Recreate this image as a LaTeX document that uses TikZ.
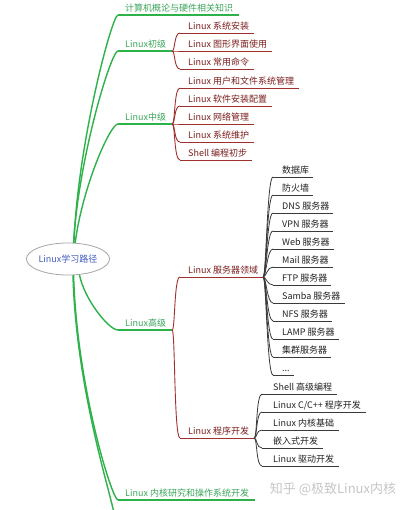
\documentclass[tikz,border=0pt]{standalone}
\usepackage{fontspec}
\setmainfont{Noto Sans CJK SC}
\usetikzlibrary{shapes.geometric}
\definecolor{gcol}{HTML}{2DB24A}
\definecolor{gtxt}{HTML}{3CA55C}
\definecolor{rcol}{HTML}{A0302E}
\definecolor{rtxt}{HTML}{7B1E1E}
\definecolor{kcol}{HTML}{3A3A3A}
\definecolor{ktxt}{HTML}{222222}
\definecolor{btxt}{HTML}{3F5BC0}
\begin{document}
\begin{tikzpicture}[x=1pt,y=-1pt,
  txt/.style={anchor=south west, inner xsep=0pt, inner ysep=1.5pt,
    text height=7pt, text depth=2pt, font=\fontsize{9pt}{10pt}\selectfont},
  gnode/.style={txt, text=gtxt, execute at begin node=\hspace*{7pt}, execute at end node=\hspace*{6pt}},
  rnode/.style={txt, text=rtxt, execute at begin node=\hspace*{8pt}, execute at end node=\hspace*{5pt}},
  knode/.style={txt, text=ktxt, execute at begin node=\hspace*{9pt}, execute at end node=\hspace*{4pt}},
  pnode/.style={txt, text=ktxt, execute at begin node=\hspace*{11pt}, execute at end node=\hspace*{5pt}},
  gline/.style={draw=gcol, line width=1.4pt},
  rline/.style={draw=rcol, line width=0.9pt},
  kline/.style={draw=kcol, line width=0.8pt},
  bracket/.style={to path={.. controls +(3pt,0pt) and +(-6pt,0pt) .. (\tikztotarget)}},
  rootnode/.style={ellipse, draw=gray!70, line width=0.8pt, minimum width=72pt, minimum height=32pt,
    inner sep=0pt, text=btxt, font=\fontsize{9pt}{10pt}\selectfont},
  wm/.style={text=gray!45, font=\fontsize{13pt}{14pt}\selectfont, inner sep=0pt}
]
\fill[white] (0,0) rectangle (409,510);
\useasboundingbox (0,0) rectangle (409,510);

% root
\node[rootnode] (root) at (68,259) {Linux学习路径};

% level 1
\node[gnode] (a) at (118,15) {计算机概论与硬件相关知识};
\node[gnode] (b) at (118,51) {Linux初级};
\node[gnode] (c) at (118,124) {Linux中级};
\node[gnode] (d) at (118,330) {Linux高级};
\node[gnode] (e) at (118,500) {Linux 内核研究和操作系统开发};
\coordinate (f) at (114,513);

% level 2
\node[rnode] (b1) at (180,33) {Linux 系统安装};
\node[rnode] (b2) at (180,51) {Linux 图形界面使用};
\node[rnode] (b3) at (180,69) {Linux 常用命令};
\node[rnode] (c1) at (180,88) {Linux 用户和文件系统管理};
\node[rnode] (c2) at (180,106) {Linux 软件安装配置};
\node[rnode] (c3) at (180,124) {Linux 网络管理};
\node[rnode] (c4) at (180,142) {Linux 系统维护};
\node[rnode] (c5) at (180,160) {Shell 编程初步};
\node[rnode] (d1) at (180,277) {Linux 服务器领域};
\node[rnode] (d2) at (180,438) {Linux 程序开发};

% level 3: servers
\node[knode] (s1) at (273,177) {数据库};
\node[knode] (s2) at (273,195) {防火墙};
\node[knode] (s3) at (273,213) {DNS 服务器};
\node[knode] (s4) at (273,231) {VPN 服务器};
\node[knode] (s5) at (273,249) {Web 服务器};
\node[knode] (s6) at (273,267) {Mail 服务器};
\node[knode] (s7) at (273,285) {FTP 服务器};
\node[knode] (s8) at (273,303) {Samba 服务器};
\node[knode] (s9) at (273,321) {NFS 服务器};
\node[knode] (s10) at (273,339) {LAMP 服务器};
\node[knode] (s11) at (273,357) {集群服务器};
\node[knode] (s12) at (273,375) {...};

% level 3: programming
\node[pnode] (p1) at (262,394) {Shell 高级编程};
\node[pnode] (p2) at (262,412) {Linux C/C++ 程序开发};
\node[pnode] (p3) at (262,430) {Linux 内核基础};
\node[pnode] (p4) at (262,448) {嵌入式开发};
\node[pnode] (p5) at (262,466) {Linux 驱动开发};

% watermark
\node[wm] (w) at (333,489) {知乎 @极致Linux内核};

% underlines
\foreach \n in {a,b,c,d,e} \draw[gline] (\n.south west) -- (\n.south east);
\foreach \n in {b1,b2,b3,c1,c2,c3,c4,c5,d1,d2} \draw[rline] (\n.south west) -- (\n.south east);
\foreach \n in {s1,s2,s3,s4,s5,s6,s7,s8,s9,s10,s11,s12,p1,p2,p3,p4,p5} \draw[kline] (\n.south west) -- (\n.south east);

% green connectors from root
\draw[gline] (root.70) .. controls +(4pt,100pt) and +(-6pt,0pt) .. (a.south west);
\draw[gline] (root.71) .. controls +(5pt,85pt) and +(-7pt,0pt) .. (b.south west);
\draw[gline] (root.66) .. controls +(7pt,55pt) and +(-8pt,0pt) .. (c.south west);
\draw[gline] (root.-54) .. controls +(5pt,-25pt) and +(-9pt,0pt) .. (d.south west);
\draw[gline] (root.-71) .. controls +(3pt,-110pt) and +(-6pt,0pt) .. (e.south west);
\draw[gline] (root.-73) .. controls +(3pt,-110pt) and +(-5pt,25pt) .. (f);

% red connectors
\foreach \n in {b1,b2,b3} \draw[rline] (b.south east) to[bracket] (\n.south west);
\foreach \n in {c1,c2,c3,c4,c5} \draw[rline] (c.south east) to[bracket] (\n.south west);
\foreach \n in {d1,d2} \draw[rline] (d.south east) to[bracket] (\n.south west);

% black connectors
\foreach \n in {s1,s2,s3,s4,s5,s6,s7,s8,s9,s10,s11,s12} \draw[kline] (d1.south east) to[bracket] (\n.south west);
\foreach \n in {p1,p2,p3,p4,p5} \draw[kline] (d2.south east) to[bracket] (\n.south west);
\end{tikzpicture}
\end{document}
